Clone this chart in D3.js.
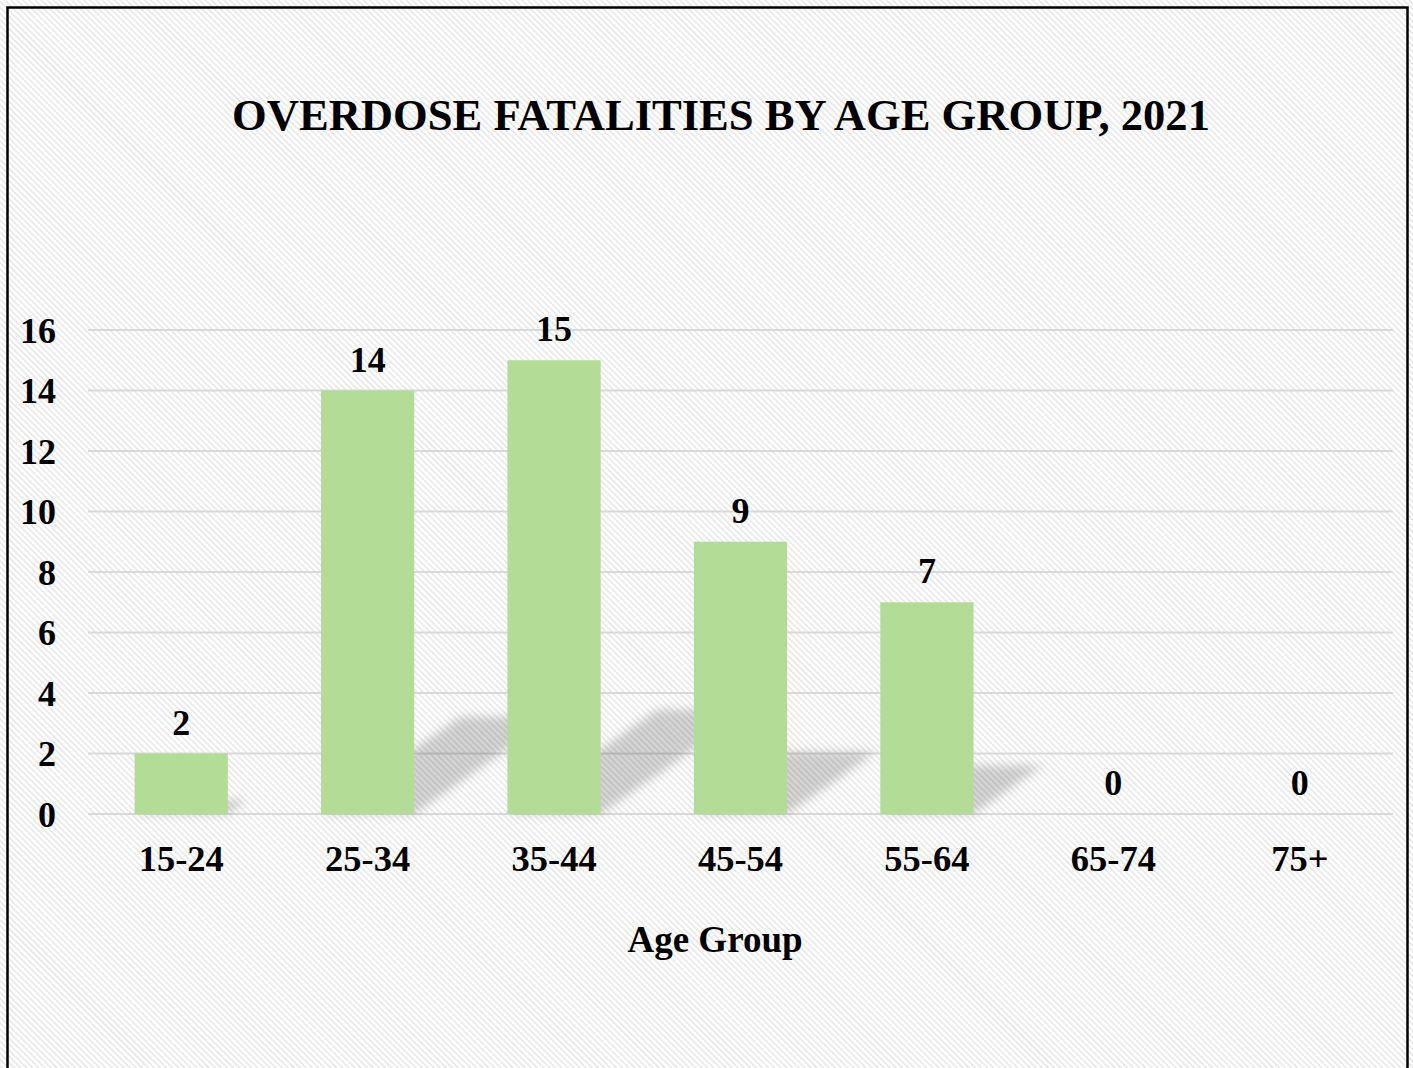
<!DOCTYPE html>
<html>
<head>
<meta charset="utf-8">
<script src="https://cdn.jsdelivr.net/npm/d3@7"></script>
<style>
  html, body { margin: 0; padding: 0; background: #ffffff; }
  svg { display: block; }
  text { font-family: "Liberation Serif", "Times New Roman", serif; font-weight: bold; fill: #000; }
</style>
</head>
<body>
<svg id="chart" width="1413" height="1068"></svg>
<script>
// Overdose fatalities per age group, 2021
const ageGroups = ["15-24", "25-34", "35-44", "45-54", "55-64", "65-74", "75+"];
const fatalities = [2, 14, 15, 9, 7, 0, 0];
const yTicks = [0, 2, 4, 6, 8, 10, 12, 14, 16];
const chartTitle = "OVERDOSE FATALITIES BY AGE GROUP, 2021";
const xAxisTitle = "Age Group";

const W = 1413, H = 1068;
const plot = { left: 88, right: 1393, top: 330, bottom: 814 };

const svg = d3.select("#chart");
const defs = svg.append("defs");

// diagonal light hatch background
const pat = defs.append("pattern")
  .attr("id", "hatch")
  .attr("patternUnits", "userSpaceOnUse")
  .attr("width", 4.3).attr("height", 4.3)
  .attr("patternTransform", "rotate(45)");
pat.append("rect").attr("width", 4.3).attr("height", 4.3).attr("fill", "#ffffff");
pat.append("line")
  .attr("x1", 0).attr("y1", 1).attr("x2", 4.3).attr("y2", 1)
  .attr("stroke", "#e6e6e6").attr("stroke-width", 1.5);

// soft blur for the perspective shadows
defs.append("filter").attr("id", "soft")
  .attr("x", "-30%").attr("y", "-30%").attr("width", "160%").attr("height", "160%")
  .append("feGaussianBlur").attr("stdDeviation", 5);

svg.append("rect").attr("x", 0).attr("y", 0).attr("width", W).attr("height", H).attr("fill", "url(#hatch)");

// chart frame
svg.append("rect")
  .attr("x", 7.5).attr("y", 7.5).attr("width", 1400).attr("height", H + 20)
  .attr("fill", "none").attr("stroke", "#000").attr("stroke-width", 2.5);

const x = d3.scaleBand().domain(ageGroups).range([plot.left, plot.right]).paddingInner(0.5).paddingOuter(0.25);
const y = d3.scaleLinear().domain([0, 16]).range([plot.bottom, plot.top]);

// gridlines
svg.append("g").selectAll("line").data(yTicks).join("line")
  .attr("x1", plot.left).attr("x2", plot.right)
  .attr("y1", d => y(d)).attr("y2", d => y(d))
  .attr("stroke", "#d9d9d9").attr("stroke-width", 2);

// y axis labels
const yAxis = d3.axisLeft(y).tickValues(yTicks).tickSize(0).tickPadding(0);
const gy = svg.append("g").attr("transform", "translate(56,0)").call(yAxis);
gy.select(".domain").remove();
gy.selectAll("text")
  .attr("font-family", "Liberation Serif, Times New Roman, serif")
  .attr("font-weight", "bold")
  .attr("font-size", 36)
  .attr("fill", "#000")
  .attr("dy", "0.34em");

// perspective shadows cast up and to the right
const skew = 0.33, flat = 0.23;
const data = ageGroups.map((g, i) => ({ g, v: fatalities[i] }));
svg.append("g").attr("filter", "url(#soft)")
  .selectAll("path").data(data.filter(d => d.v > 0)).join("path")
  .attr("d", d => {
    const x0 = x(d.g), x1 = x0 + x.bandwidth();
    const h = y(0) - y(d.v);
    const dx = skew * h, dh = flat * h, b = y(0);
    return `M${x0},${b}L${x1},${b}L${x1 + dx},${b - dh}L${x0 + dx},${b - dh}Z`;
  })
  .attr("fill", "#000").attr("fill-opacity", 0.17);

// bars
svg.append("g").selectAll("rect").data(data).join("rect")
  .attr("x", d => x(d.g))
  .attr("y", d => y(d.v))
  .attr("width", x.bandwidth())
  .attr("height", d => y(0) - y(d.v))
  .attr("fill", "#b3dc97");

// value labels
svg.append("g").selectAll("text").data(data).join("text")
  .attr("x", d => x(d.g) + x.bandwidth() / 2)
  .attr("y", d => y(d.v) - 19)
  .attr("text-anchor", "middle")
  .attr("font-size", 36)
  .text(d => d.v);

// x axis labels
const xAxis = d3.axisBottom(x).tickSize(0).tickPadding(0);
const gx = svg.append("g").attr("transform", `translate(0,${plot.bottom})`).call(xAxis);
gx.select(".domain").remove();
gx.selectAll("text")
  .attr("font-family", "Liberation Serif, Times New Roman, serif")
  .attr("font-weight", "bold")
  .attr("font-size", 36.5)
  .attr("fill", "#000")
  .attr("dy", null)
  .attr("y", 57);

// titles
svg.append("text")
  .attr("x", 721).attr("y", 130)
  .attr("text-anchor", "middle")
  .attr("font-size", 44.6)
  .text(chartTitle);

svg.append("text")
  .attr("x", 715).attr("y", 952)
  .attr("text-anchor", "middle")
  .attr("font-size", 37)
  .text(xAxisTitle);
</script>
</body>
</html>
